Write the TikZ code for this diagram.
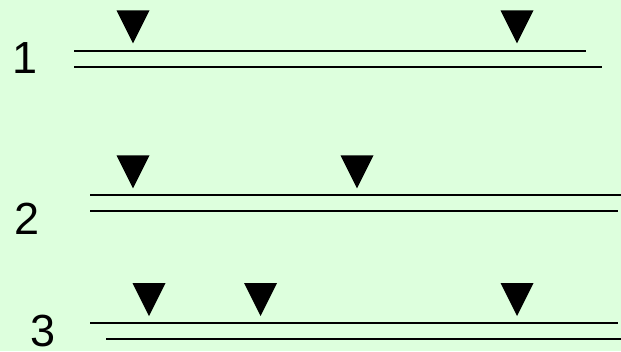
\documentclass[tikz,border=0pt]{standalone}
\usepackage{fontspec}
\setmainfont{Liberation Sans}
\definecolor{slidebg}{RGB}{221,255,221}
\begin{document}
\begin{tikzpicture}[x=1pt, y=-1pt,
  rail/.style={line width=2.2pt},
  num/.style={inner sep=0pt, font=\fontsize{45}{54}\selectfont}
]
\fill[slidebg] (0,0) rectangle (621,351);
\useasboundingbox (0,0) rectangle (621,351);
% row numbers
\node[num] (n1) at (25.3,58.3)  {1};
\node[num] (n2) at (26.7,218.8) {2};
\node[num] (n3) at (42.8,331.3) {3};
% double rails
\draw[rail] (74,51)   -- (586,51);
\draw[rail] (74,66.7) -- (602,66.7);
\draw[rail] (90,195)  -- (621,195);
\draw[rail] (90,211)  -- (618,211);
\draw[rail] (90,322.7) -- (618,322.7);
\draw[rail] (106,339) -- (621,339);
% markers (apex x / apex y)
\foreach \x/\y in {133/43.3, 517/43.3, 133/188.3, 357/188.3, 149/316, 260.6/316, 517/316}
  \fill (\x-16.5,\y-33) -- (\x+16.5,\y-33) -- (\x,\y) -- cycle;
\end{tikzpicture}
\end{document}
